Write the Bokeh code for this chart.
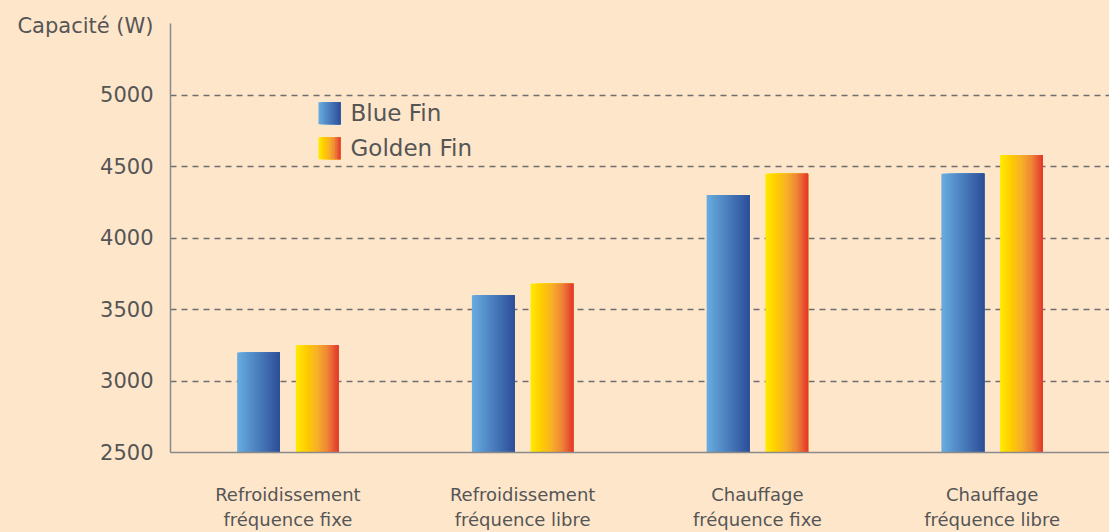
from bokeh.plotting import figure
from bokeh.models import FactorRange, Range1d, FixedTicker, ColumnDataSource, Label
from bokeh.transform import dodge
from bokeh.embed import file_html
from bokeh.resources import INLINE

# ---- data ----
categories = ["Refroidissement\nfréquence fixe", "Refroidissement\nfréquence libre",
              "Chauffage\nfréquence fixe", "Chauffage\nfréquence libre"]
blue_fin = [3200, 3600, 4300, 4450]
golden_fin = [3250, 3680, 4450, 4580]
series_names = ["Blue Fin", "Golden Fin"]
y_ticks = [2500, 3000, 3500, 4000, 4500, 5000]
y_label = "Capacité (W)"
y_label_pos = 5486

# ---- style ----
BG = "#FEE6CB"
TXT = "#555555"
FONT = "DejaVu Sans"
blue_stops = [(0.0, (104, 173, 224)), (1.0, (44, 78, 153))]
gold_stops = [(0.0, (255, 236, 0)), (0.25, (255, 204, 0)), (0.5, (247, 176, 40)),
              (0.75, (238, 130, 55)), (1.0, (228, 52, 42))]


def grad(stops, t):
    for (t0, c0), (t1, c1) in zip(stops[:-1], stops[1:]):
        if t <= t1:
            f = (t - t0) / (t1 - t0) if t1 > t0 else 0
            c = [round(a + (b - a) * f) for a, b in zip(c0, c1)]
            return "#%02x%02x%02x" % tuple(c)
    return "#%02x%02x%02x" % stops[-1][1]


p = figure(width=1109, height=532, x_range=FactorRange(*categories, range_padding=0),
           y_range=Range1d(2500, 5500), output_backend="svg", toolbar_location=None,
           min_border_left=170, min_border_right=0, min_border_top=23, min_border_bottom=80,
           background_fill_color=BG, border_fill_color=BG, outline_line_color=None)

src = ColumnDataSource(dict(cat=categories, blue=blue_fin, gold=golden_fin))

BAR_W = 0.182
OFFS = [-0.125, 0.125]
N = 24
for field, off, stops in [("blue", OFFS[0], blue_stops), ("gold", OFFS[1], gold_stops)]:
    for k in range(N):
        t = (k + 0.5) / N
        left = off - BAR_W / 2 + (k / N) * BAR_W
        right = off + BAR_W / 2
        p.vbar(x=dodge("cat", (left + right) / 2, range=p.x_range), top=field, bottom=2500,
               width=right - left, source=src, fill_color=grad(stops, t),
               line_color=None)

# legend (manual, gradient swatches)
leg_x0, leg_x1 = 0.6305, 0.7242
leg_rows = [(4949, 4795, blue_stops, series_names[0], 4871),
            (4705, 4551, gold_stops, series_names[1], 4627)]
M = 12
for top, bot, stops, name, ymid in leg_rows:
    for k in range(M):
        t = (k + 0.5) / M
        xa = leg_x0 + (leg_x1 - leg_x0) * k / M
        p.quad(left=xa, right=leg_x1, top=top, bottom=bot, fill_color=grad(stops, t), line_color=None)
    p.add_layout(Label(x=0.7668, y=ymid, text=name, text_font=FONT, text_font_size="23px",
                       text_color=TXT, text_baseline="middle", text_align="left"))

# axes
p.yaxis.ticker = FixedTicker(ticks=y_ticks + [y_label_pos])
p.yaxis.major_label_overrides = {y_label_pos: y_label}
p.ygrid.ticker = FixedTicker(ticks=y_ticks)
for ax in (p.xaxis[0], p.yaxis[0]):
    ax.axis_line_color = "#8a8a8a"
    ax.axis_line_width = 1.5
    ax.major_tick_line_color = None
    ax.minor_tick_line_color = None
    ax.major_label_text_color = TXT
    ax.major_label_text_font = FONT
p.yaxis.major_label_text_font_size = "21px"
p.yaxis.major_label_standoff = 11
p.xaxis.major_label_text_font_size = "18px"
p.xaxis.major_label_standoff = 25

p.xgrid.grid_line_color = None
p.ygrid.grid_line_color = "#6e6e6e"
p.ygrid.grid_line_dash = "6 5"
p.ygrid.grid_line_width = 1.3

html = file_html(p, INLINE)
html = html.replace("</head>", "<style>body{background:%s;}</style></head>" % BG, 1)
open("out.html", "w").write(html)
